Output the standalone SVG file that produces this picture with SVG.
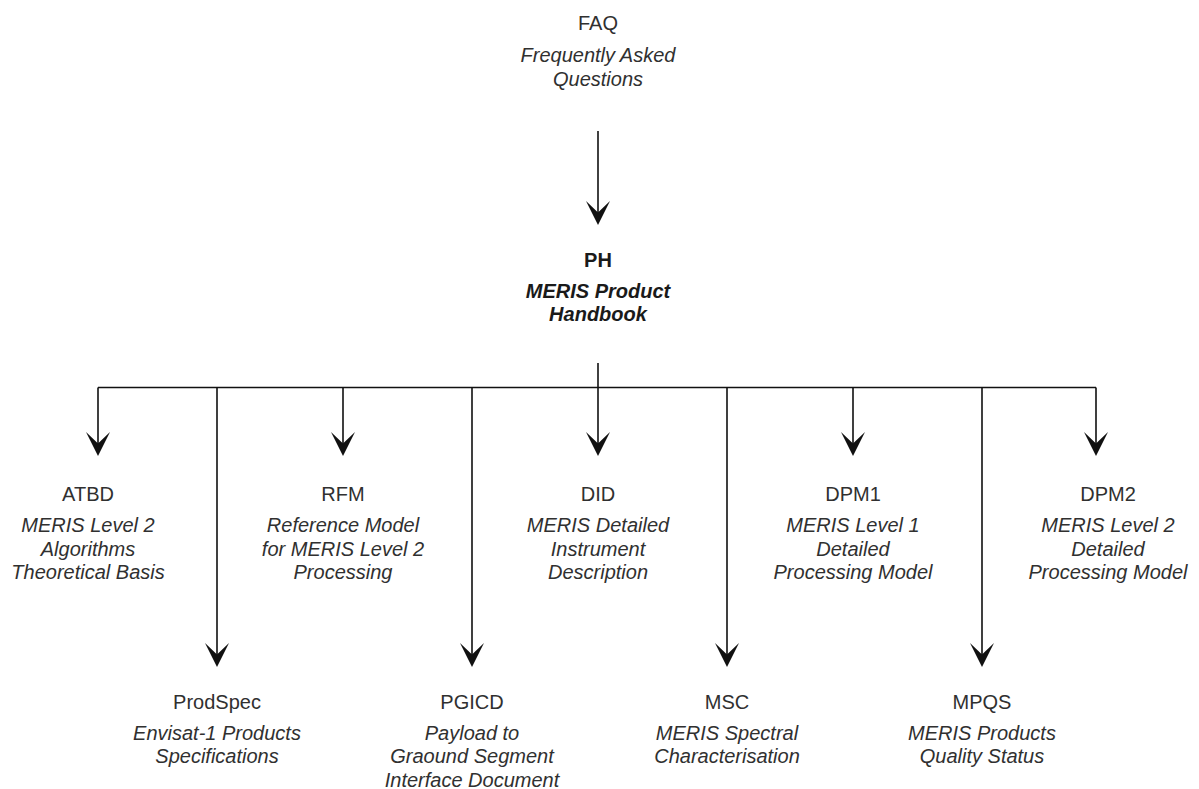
<svg xmlns="http://www.w3.org/2000/svg" xmlns:xlink="http://www.w3.org/1999/xlink" width="1199" height="789" viewBox="0 0 1199 789">
<style>
  text { font-family: "Liberation Sans", Arial, sans-serif; font-size: 20px; fill: #303030; text-anchor: middle; }
  .d { font-style: italic; }
  .b { font-weight: bold; fill: #1a1a1a; }
  .ln { stroke: #111; stroke-width: 1.6; fill: none; }
  .ah { fill: #111; }
</style>
<defs>
  <path id="ah" class="ah" d="M0,0 L-12,-24 L0,-12.5 L12,-24 Z"/>
</defs>
<rect width="1199" height="789" fill="#ffffff"/>
<g id="connectors">
  <path class="ln" d="M598,131 V214"/>
  <use xlink:href="#ah" x="598" y="225"/>
  <path class="ln" d="M598,363 V446"/>
  <path class="ln" d="M98,387.5 H1096"/>
  <path class="ln" d="M98,387.5 V446 M343,387.5 V446 M853,387.5 V446 M1096,387.5 V446"/>
  <path class="ln" d="M217,387.5 V657 M472,387.5 V657 M727,387.5 V657 M982,387.5 V657"/>
  <use xlink:href="#ah" x="98" y="456"/>
  <use xlink:href="#ah" x="343" y="456"/>
  <use xlink:href="#ah" x="598" y="456"/>
  <use xlink:href="#ah" x="853" y="456"/>
  <use xlink:href="#ah" x="1096" y="456"/>
  <use xlink:href="#ah" x="217" y="667"/>
  <use xlink:href="#ah" x="472" y="667"/>
  <use xlink:href="#ah" x="727" y="667"/>
  <use xlink:href="#ah" x="982" y="667"/>
</g>
<g id="FAQ">
  <text x="598" y="30">FAQ</text>
  <text class="d" x="598" y="62">Frequently Asked</text>
  <text class="d" x="598" y="86">Questions</text>
</g>
<g id="PH">
  <text class="b" x="598" y="267">PH</text>
  <text class="b d" x="598" y="298">MERIS Product</text>
  <text class="b d" x="598" y="321">Handbook</text>
</g>
<g id="ATBD">
  <text x="88" y="501">ATBD</text>
  <text class="d" x="88" y="532">MERIS Level 2</text>
  <text class="d" x="88" y="555.5">Algorithms</text>
  <text class="d" x="88" y="579">Theoretical Basis</text>
</g>
<g id="RFM">
  <text x="343" y="501">RFM</text>
  <text class="d" x="343" y="532">Reference Model</text>
  <text class="d" x="343" y="555.5">for MERIS Level 2</text>
  <text class="d" x="343" y="579">Processing</text>
</g>
<g id="DID">
  <text x="598" y="501">DID</text>
  <text class="d" x="598" y="532">MERIS Detailed</text>
  <text class="d" x="598" y="555.5">Instrument</text>
  <text class="d" x="598" y="579">Description</text>
</g>
<g id="DPM1">
  <text x="853" y="501">DPM1</text>
  <text class="d" x="853" y="532">MERIS Level 1</text>
  <text class="d" x="853" y="555.5">Detailed</text>
  <text class="d" x="853" y="579">Processing Model</text>
</g>
<g id="DPM2">
  <text x="1108" y="501">DPM2</text>
  <text class="d" x="1108" y="532">MERIS Level 2</text>
  <text class="d" x="1108" y="555.5">Detailed</text>
  <text class="d" x="1108" y="579">Processing Model</text>
</g>
<g id="ProdSpec">
  <text x="217" y="709">ProdSpec</text>
  <text class="d" x="217" y="740">Envisat-1 Products</text>
  <text class="d" x="217" y="763">Specifications</text>
</g>
<g id="PGICD">
  <text x="472" y="709">PGICD</text>
  <text class="d" x="472" y="740">Payload to</text>
  <text class="d" x="472" y="763">Graound Segment</text>
  <text class="d" x="472" y="787">Interface Document</text>
</g>
<g id="MSC">
  <text x="727" y="709">MSC</text>
  <text class="d" x="727" y="740">MERIS Spectral</text>
  <text class="d" x="727" y="763">Characterisation</text>
</g>
<g id="MPQS">
  <text x="982" y="709">MPQS</text>
  <text class="d" x="982" y="740">MERIS Products</text>
  <text class="d" x="982" y="763">Quality Status</text>
</g>
</svg>
